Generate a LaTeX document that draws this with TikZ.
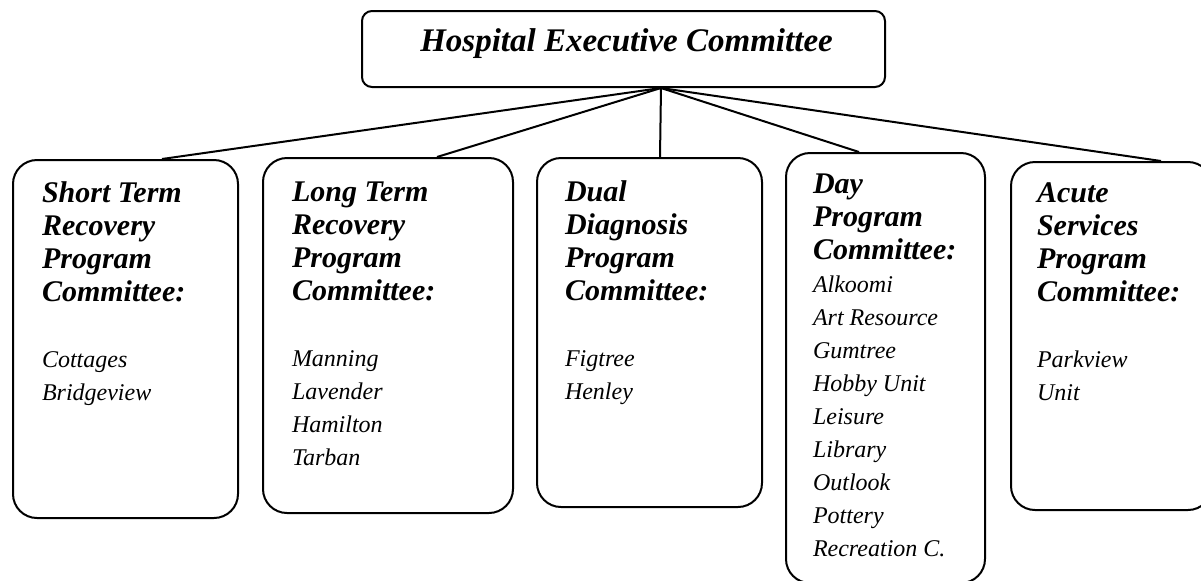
\documentclass[tikz,border=0pt]{standalone}
\usepackage{fontspec}
\setmainfont{Liberation Serif}
\usetikzlibrary{calc}
\newcommand\headfont{\fontsize{15}{16.5}\selectfont\bfseries\itshape}
\newcommand\unitfont{\fontsize{12}{16.5}\selectfont\mdseries\itshape}
\begin{document}
\begin{tikzpicture}[x=0.5pt, y=-0.5pt, line width=1pt,
		box/.style={draw, rounded corners=12pt, inner sep=0pt},
		txt/.style={anchor=base west, inner sep=0pt, text width=150pt, align=flush left, font=\headfont}
		]
	\clip (0,0) rectangle (1201,580);
	\node [draw, rounded corners=5pt, minimum width=261.5pt, minimum height=38pt] (hec) at (623.5,49) {};
	\node [anchor=base, inner sep=0pt, font=\fontsize{16.5}{18}\selectfont\bfseries\itshape] (hect) at ($(hec.north)+(3,41)$) {Hospital Executive Committee};
	\node [box, minimum width=112.5pt, minimum height=179pt] (stc) at (125.5,339) {};
	\node [box, minimum width=125pt, minimum height=177.5pt] (ltc) at (388,335.5) {};
	\node [box, minimum width=112.5pt, minimum height=174.5pt] (ddc) at (649.5,332.5) {};
	\node [box, minimum width=99.5pt, minimum height=215pt] (dpc) at (885.5,368) {};
	\node [box, minimum width=100.5pt, minimum height=174pt] (asc) at (1111.5,336) {};
	\node [txt] (stct) at ($(stc.north west)+(29,43)$) {Short Term\\Recovery\\Program\\Committee:\\[16.5pt]\unitfont Cottages\\Bridgeview};
	\node [txt] (ltct) at ($(ltc.north west)+(29,44)$) {Long Term\\Recovery\\Program\\Committee:\\[16.5pt]\unitfont Manning\\Lavender\\Hamilton\\Tarban};
	\node [txt] (ddct) at ($(ddc.north west)+(28,44)$) {Dual\\Diagnosis\\Program\\Committee:\\[16.5pt]\unitfont Figtree\\Henley};
	\node [txt] (dpct) at ($(dpc.north west)+(27,41)$) {Day\\Program\\Committee:\\\unitfont Alkoomi\\Art Resource\\Gumtree\\Hobby Unit\\Leisure\\Library\\Outlook\\Pottery\\Recreation C.};
	\node [txt] (asct) at ($(asc.north west)+(26,41)$) {Acute\\Services\\Program\\Committee:\\[16.5pt]\unitfont Parkview\\Unit};
	\draw ($(hec.south)+(37.5,0)$) -- ($(stc.north west)+(150,0)$);
	\draw ($(hec.south)+(37.5,0)$) -- ($(ltc.north west)+(175,0)$);
	\draw ($(hec.south)+(37.5,0)$) -- ($(ddc.north west)+(124,0)$);
	\draw ($(hec.south)+(37.5,0)$) -- ($(dpc.north west)+(74,0)$);
	\draw ($(hec.south)+(37.5,0)$) -- ($(asc.north west)+(151,0)$);
\end{tikzpicture}
\end{document}
